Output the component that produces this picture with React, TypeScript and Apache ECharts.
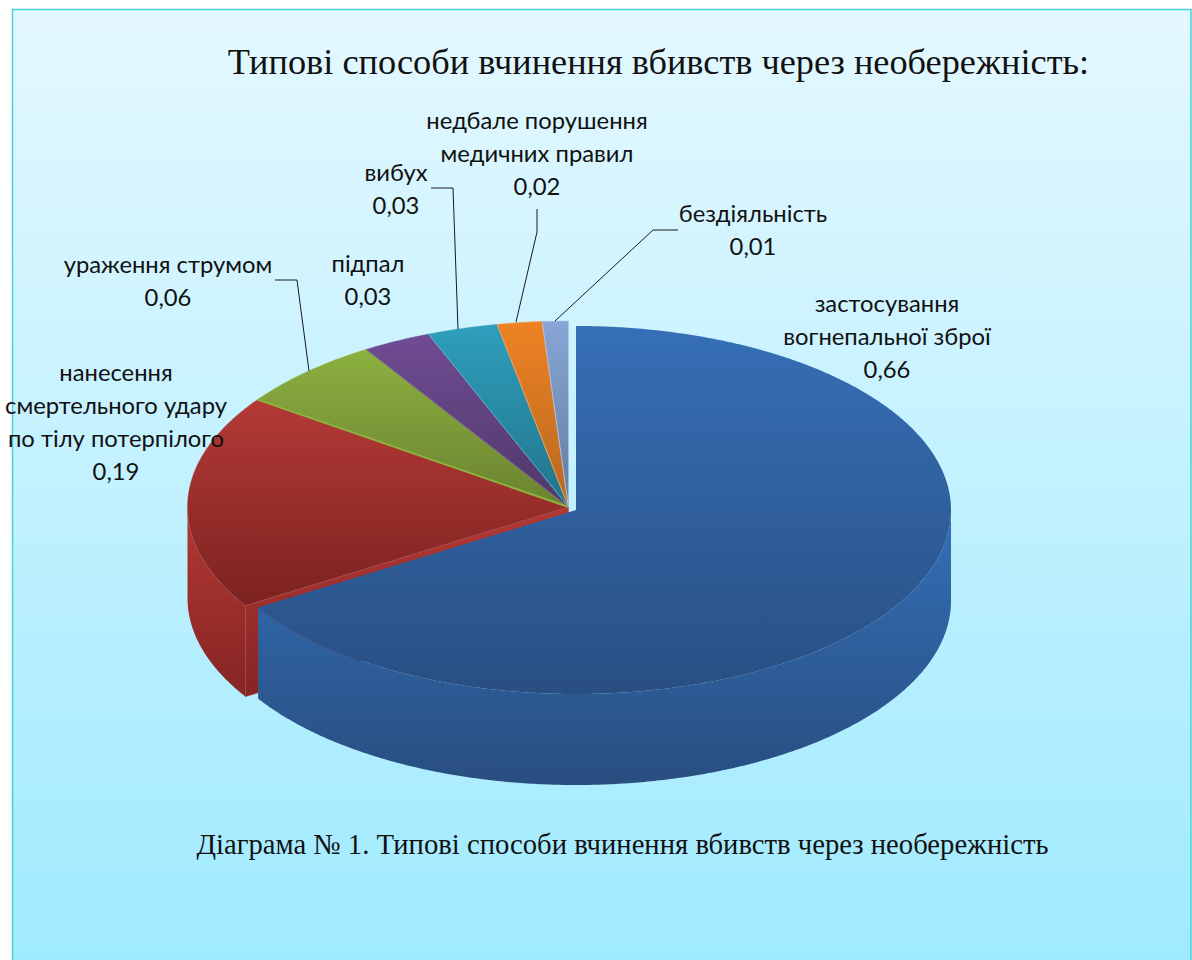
import React, { useEffect, useRef } from "react";
import * as echarts from "echarts";

const titleText = "Типові способи вчинення вбивств через необережність:";
const captionText = "Діаграма № 1. Типові способи вчинення вбивств через необережність";
const categories = [
  "застосування\nвогнепальної зброї",
  "нанесення\nсмертельного удару\nпо тілу потерпілого",
  "ураження струмом",
  "підпал",
  "вибух",
  "недбале порушення\nмедичних правил",
  "бездіяльність",
];
const values = [0.661, 0.187, 0.063, 0.029, 0.03, 0.019, 0.011];

const topColors = [
  ["#366fb6", "#294f83"],
  ["#b43a36", "#7c2220"],
  ["#8cb040", "#6b8330"],
  ["#704c93", "#4f386a"],
  ["#2e9fbd", "#22748a"],
  ["#ef8224", "#b5681e"],
  ["#88a5d7", "#647d9c"],
];
const wallColors = [
  ["#3370b8", "#294e80"],
  ["#b33834", "#862523"],
];
const edgeColors = ["#3a6fb0", "#a84a47", "#8fb23e", "#7a5a9a", "#5aaec6", "#f0a060", "#b4c6e6"];
const edgeWidths = [0, 0.6, 2, 1, 0.8, 0.8, 0.6];

const labelBoxes = [
  { x: 887, y: 336 },
  { x: 116, y: 421 },
  { x: 168, y: 280 },
  { x: 368, y: 279 },
  { x: 396, y: 188 },
  { x: 537, y: 153 },
  { x: 753, y: 229 },
];
const leaderLines: (number[][] | null)[] = [
  null,
  null,
  [[275, 280], [297, 280], [309, 371]],
  null,
  [[431, 188], [453, 188], [458, 329]],
  [[537, 209], [537, 232], [516, 322]],
  [[555, 321], [653, 230], [678, 230]],
];

const mainPie = { cx: 568.5, cy: 507, rx: 381, ry: 186 };
const explodedPie = { cx: 576, cy: 510, rx: 375, ry: 184 };
const depth = 91;
const explodedIndex = 0;

type Pie = { cx: number; cy: number; rx: number; ry: number };

const total = values.reduce((a, b) => a + b, 0);
const starts: number[] = [];
values.reduce((acc, v, i) => {
  starts[i] = acc;
  return acc + v / total;
}, 0);

const pt = (p: Pie, f: number, dy = 0) => [
  p.cx + p.rx * Math.sin(2 * Math.PI * f),
  p.cy - p.ry * Math.cos(2 * Math.PI * f) + dy,
];
const arc = (p: Pie, a: number, b: number, dy = 0) => {
  const n = Math.max(2, Math.ceil(Math.abs(b - a) * 720));
  const out: number[][] = [];
  for (let i = 0; i <= n; i++) out.push(pt(p, a + ((b - a) * i) / n, dy));
  return out;
};
const grad = (c: string[]) =>
  new echarts.graphic.LinearGradient(0, 0, 0, 1, [
    { offset: 0, color: c[0] },
    { offset: 1, color: c[1] },
  ]);

function renderSlice(params: any, api: any) {
  const i = params.dataIndex;
  const v = api.value(0) / total;
  const s = starts[i];
  const e = s + v;
  const p = i === explodedIndex ? explodedPie : mainPie;
  const children: any[] = [];

  // radial cut face next to the pulled-out slice
  if (i === explodedIndex + 1) {
    const o = pt(p, s);
    children.push({
      type: "polygon",
      shape: { points: [[p.cx, p.cy], o, [o[0], o[1] + depth], [p.cx, p.cy + depth]] },
      style: { fill: grad(wallColors[1]), stroke: "#a85250", lineWidth: 0.5 },
    });
  }
  // outer wall
  const a = Math.max(s, 0.25);
  const b = Math.min(e, 0.75);
  if (b > a) {
    const wc = wallColors[i] ?? topColors[i];
    children.push({
      type: "polygon",
      shape: { points: [...arc(p, a, b), ...arc(p, b, a, depth)] },
      style: { fill: grad(wc) },
    });
  }
  // top face
  children.push({
    type: "polygon",
    shape: { points: [[p.cx, p.cy], ...arc(p, s, e)] },
    style: { fill: grad(topColors[i]), stroke: edgeColors[i], lineWidth: i === 0 ? 0 : 0.4 },
  });
  if (edgeWidths[i] > 0) {
    children.push({
      type: "polyline",
      shape: { points: [[p.cx, p.cy], pt(p, s)] },
      style: { stroke: edgeColors[i], lineWidth: edgeWidths[i], fill: "none" },
    });
  }
  // leader and label
  const leader = leaderLines[i];
  if (leader) {
    children.push({
      type: "polyline",
      shape: { points: leader },
      style: { stroke: "#1a1a1a", lineWidth: 1, fill: "none" },
    });
  }
  const box = labelBoxes[i];
  children.push({
    type: "text",
    style: {
      text: `${categories[i]}\n${values[i].toFixed(2).replace(".", ",")}`,
      x: box.x,
      y: box.y,
      align: "center",
      verticalAlign: "middle",
      fill: "#111111",
      font: '23.8px Lato, "Noto Sans", sans-serif',
      lineHeight: 33,
    },
  });
  return { type: "group", children };
}

export default function App() {
  const ref = useRef<HTMLDivElement>(null);
  useEffect(() => {
    document.body.style.margin = "0";
    const chart = echarts.init(ref.current!, undefined, { renderer: "svg" });
    const order = values.map((_, i) => i);
    chart.setOption({
      animation: false,
      backgroundColor: "#ffffff",
      graphic: [
        {
          type: "rect",
          z: -1,
          silent: true,
          shape: { x: 12.5, y: 9.5, width: 1178.5, height: 960 },
          style: {
            fill: new echarts.graphic.LinearGradient(0, 0, 0, 1, [
              { offset: 0, color: "#e4f8ff" },
              { offset: 1, color: "#9feaff" },
            ]),
            stroke: "#45d2d2",
            lineWidth: 1.5,
          },
        },
        {
          type: "text",
          z: 5,
          style: {
            text: titleText,
            x: 658.5,
            y: 62,
            align: "center",
            verticalAlign: "middle",
            fill: "#111111",
            font: '36.3px "Liberation Serif", serif',
          },
        },
        {
          type: "text",
          z: 5,
          style: {
            text: captionText,
            x: 622.5,
            y: 844,
            align: "center",
            verticalAlign: "middle",
            fill: "#111111",
            font: '28.66px "Liberation Serif", serif',
          },
        },
      ],
      series: [
        {
          type: "custom",
          coordinateSystem: "none",
          silent: true,
          clip: false,
          data: order.slice().map((i) => [values[i]]),
          renderItem: (params: any, api: any) => {
            const g = renderSlice(params, api);
            // the pulled-out slice sits in front of the others
            const front = params.dataIndex === explodedIndex ? 10 : 1;
            g.children.forEach((c: any) => {
              c.z2 = c.type === "text" || (c.type === "polyline" && c.style.stroke === "#1a1a1a") ? 20 : front;
            });
            return g;
          },
        },
      ],
    });
    return () => chart.dispose();
  }, []);
  return <div ref={ref} style={{ position: "absolute", left: 0, top: 0, width: 1192, height: 960 }} />;
}
